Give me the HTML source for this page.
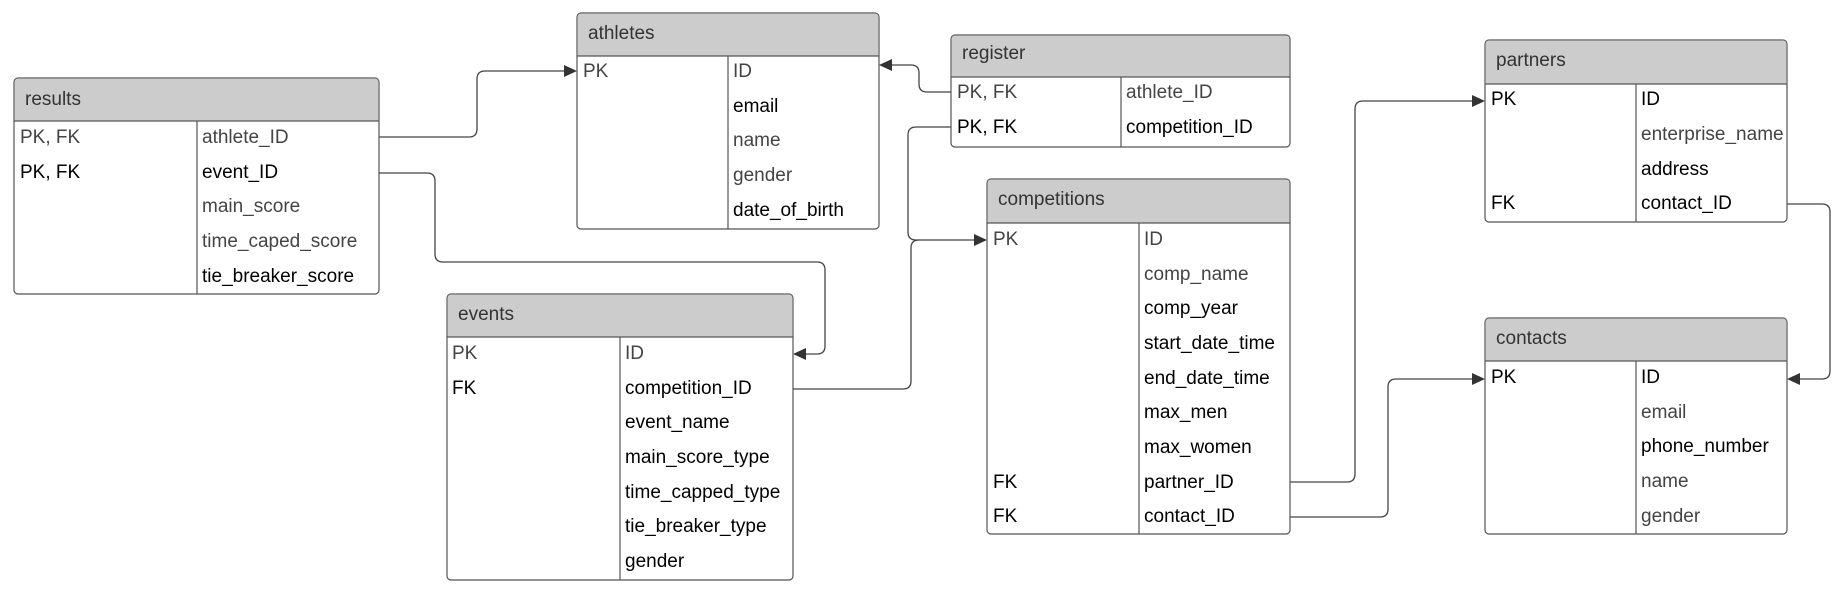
<!DOCTYPE html>
<html><head><meta charset="utf-8"><style>
html,body{margin:0;padding:0;background:#fff;}
svg{display:block;}
text{font-family:"Liberation Sans",sans-serif;font-size:19px;}
.h{fill:#333;}
.g{fill:#444;}
.k{fill:#000;}
.box{fill:#fff;stroke:#555;stroke-width:1.2;}
.hd{fill:#ccc;}
.ln{fill:none;stroke:#444;stroke-width:1.3;}
</style></head><body>
<svg width="1841" height="601" viewBox="0 0 1841 601" xmlns="http://www.w3.org/2000/svg">
<path class="ln" d="M379 137 H469 Q477 137 477 129 V79 Q477 71 485 71 H566"/>
<polygon points="577,71 564,65 564,77" fill="#333"/>
<path class="ln" d="M379 173 H427 Q435 173 435 181 V254 Q435 262 443 262 H817 Q825 262 825 270 V346 Q825 354 817 354 H804"/>
<polygon points="793,354 806,348 806,360" fill="#333"/>
<path class="ln" d="M951 92 H927 Q919 92 919 84 V73 Q919 65 911 65 H890"/>
<polygon points="879,65 892,59 892,71" fill="#333"/>
<path class="ln" d="M951 127 H916 Q908 127 908 135 V232 Q908 240 916 240 H976"/>
<path class="ln" d="M793 389 H903 Q911 389 911 381 V248 Q911 240 919 240"/>
<polygon points="987,240 974,234 974,246" fill="#333"/>
<path class="ln" d="M1290 482 H1347 Q1355 482 1355 474 V109 Q1355 101 1363 101 H1474"/>
<polygon points="1485,101 1472,95 1472,107" fill="#333"/>
<path class="ln" d="M1290 517 H1380 Q1388 517 1388 509 V387 Q1388 379 1396 379 H1474"/>
<polygon points="1485,379 1472,373 1472,385" fill="#333"/>
<path class="ln" d="M1787 204 H1822 Q1830 204 1830 212 V371 Q1830 379 1822 379 H1798"/>
<polygon points="1787,379 1800,373 1800,385" fill="#333"/>

<g>
<rect class="box" x="14" y="78" width="365" height="216" rx="4"/>
<path class="hd" d="M18 78.6 H375 Q378.4 78.6 378.4 82 V121 H14.6 V82 Q14.6 78.6 18 78.6Z"/>
<line x1="14" y1="121" x2="379" y2="121" stroke="#555" stroke-width="1.2"/>
<line x1="197" y1="121" x2="197" y2="294" stroke="#555" stroke-width="1.2"/>
<text class="h" x="25" y="105">results</text>
<text class="g" x="20" y="143">PK, FK</text><text class="g" x="202" y="143">athlete_ID</text>
<text class="k" x="20" y="178">PK, FK</text><text class="k" x="202" y="178">event_ID</text>
<text class="g" x="202" y="212">main_score</text>
<text class="g" x="202" y="247">time_caped_score</text>
<text class="k" x="202" y="282">tie_breaker_score</text>
</g>

<g>
<rect class="box" x="577" y="13" width="302" height="216" rx="4"/>
<path class="hd" d="M581 13.6 H875 Q878.4 13.6 878.4 17 V56 H577.6 V17 Q577.6 13.6 581 13.6Z"/>
<line x1="577" y1="56" x2="879" y2="56" stroke="#555" stroke-width="1.2"/>
<line x1="728" y1="56" x2="728" y2="229" stroke="#555" stroke-width="1.2"/>
<text class="h" x="588" y="39">athletes</text>
<text class="g" x="583" y="77">PK</text><text class="g" x="733" y="77">ID</text>
<text class="k" x="733" y="112">email</text>
<text class="g" x="733" y="146">name</text>
<text class="g" x="733" y="181">gender</text>
<text class="k" x="733" y="216">date_of_birth</text>
</g>

<g>
<rect class="box" x="447" y="294" width="346" height="286" rx="4"/>
<path class="hd" d="M451 294.6 H789 Q792.4 294.6 792.4 298 V337 H447.6 V298 Q447.6 294.6 451 294.6Z"/>
<line x1="447" y1="337" x2="793" y2="337" stroke="#555" stroke-width="1.2"/>
<line x1="620" y1="337" x2="620" y2="580" stroke="#555" stroke-width="1.2"/>
<text class="h" x="458" y="320">events</text>
<text class="g" x="452" y="359">PK</text><text class="g" x="625" y="359">ID</text>
<text class="k" x="452" y="394">FK</text><text class="k" x="625" y="394">competition_ID</text>
<text class="k" x="625" y="428">event_name</text>
<text class="k" x="625" y="463">main_score_type</text>
<text class="k" x="625" y="498">time_capped_type</text>
<text class="k" x="625" y="532">tie_breaker_type</text>
<text class="k" x="625" y="567">gender</text>
</g>

<g>
<rect class="box" x="951" y="35" width="339" height="112" rx="4"/>
<path class="hd" d="M955 35.6 H1286 Q1289.4 35.6 1289.4 39 V77 H951.6 V39 Q951.6 35.6 955 35.6Z"/>
<line x1="951" y1="77" x2="1290" y2="77" stroke="#555" stroke-width="1.2"/>
<line x1="1121" y1="77" x2="1121" y2="147" stroke="#555" stroke-width="1.2"/>
<text class="h" x="962" y="59">register</text>
<text class="g" x="957" y="98">PK, FK</text><text class="g" x="1126" y="98">athlete_ID</text>
<text class="k" x="957" y="133">PK, FK</text><text class="k" x="1126" y="133">competition_ID</text>
</g>

<g>
<rect class="box" x="987" y="179" width="303" height="355" rx="4"/>
<path class="hd" d="M991 179.6 H1286 Q1289.4 179.6 1289.4 183 V223 H987.6 V183 Q987.6 179.6 991 179.6Z"/>
<line x1="987" y1="223" x2="1290" y2="223" stroke="#555" stroke-width="1.2"/>
<line x1="1139" y1="223" x2="1139" y2="534" stroke="#555" stroke-width="1.2"/>
<text class="h" x="998" y="205">competitions</text>
<text class="g" x="993" y="245">PK</text><text class="g" x="1144" y="245">ID</text>
<text class="g" x="1144" y="280">comp_name</text>
<text class="k" x="1144" y="314">comp_year</text>
<text class="k" x="1144" y="349">start_date_time</text>
<text class="k" x="1144" y="384">end_date_time</text>
<text class="k" x="1144" y="418">max_men</text>
<text class="k" x="1144" y="453">max_women</text>
<text class="k" x="993" y="488">FK</text><text class="k" x="1144" y="488">partner_ID</text>
<text class="k" x="993" y="522">FK</text><text class="k" x="1144" y="522">contact_ID</text>
</g>

<g>
<rect class="box" x="1485" y="40" width="302" height="182" rx="4"/>
<path class="hd" d="M1489 40.6 H1783 Q1786.4 40.6 1786.4 44 V84 H1485.6 V44 Q1485.6 40.6 1489 40.6Z"/>
<line x1="1485" y1="84" x2="1787" y2="84" stroke="#555" stroke-width="1.2"/>
<line x1="1636" y1="84" x2="1636" y2="222" stroke="#555" stroke-width="1.2"/>
<text class="h" x="1496" y="66">partners</text>
<text class="k" x="1491" y="105">PK</text><text class="k" x="1641" y="105">ID</text>
<text class="g" x="1641" y="140">enterprise_name</text>
<text class="k" x="1641" y="175">address</text>
<text class="k" x="1491" y="209">FK</text><text class="k" x="1641" y="209">contact_ID</text>
</g>

<g>
<rect class="box" x="1485" y="318" width="302" height="216" rx="4"/>
<path class="hd" d="M1489 318.6 H1783 Q1786.4 318.6 1786.4 322 V361 H1485.6 V322 Q1485.6 318.6 1489 318.6Z"/>
<line x1="1485" y1="361" x2="1787" y2="361" stroke="#555" stroke-width="1.2"/>
<line x1="1636" y1="361" x2="1636" y2="534" stroke="#555" stroke-width="1.2"/>
<text class="h" x="1496" y="344">contacts</text>
<text class="k" x="1491" y="383">PK</text><text class="k" x="1641" y="383">ID</text>
<text class="g" x="1641" y="418">email</text>
<text class="k" x="1641" y="452">phone_number</text>
<text class="g" x="1641" y="487">name</text>
<text class="g" x="1641" y="522">gender</text>
</g>
</svg>
</body></html>
